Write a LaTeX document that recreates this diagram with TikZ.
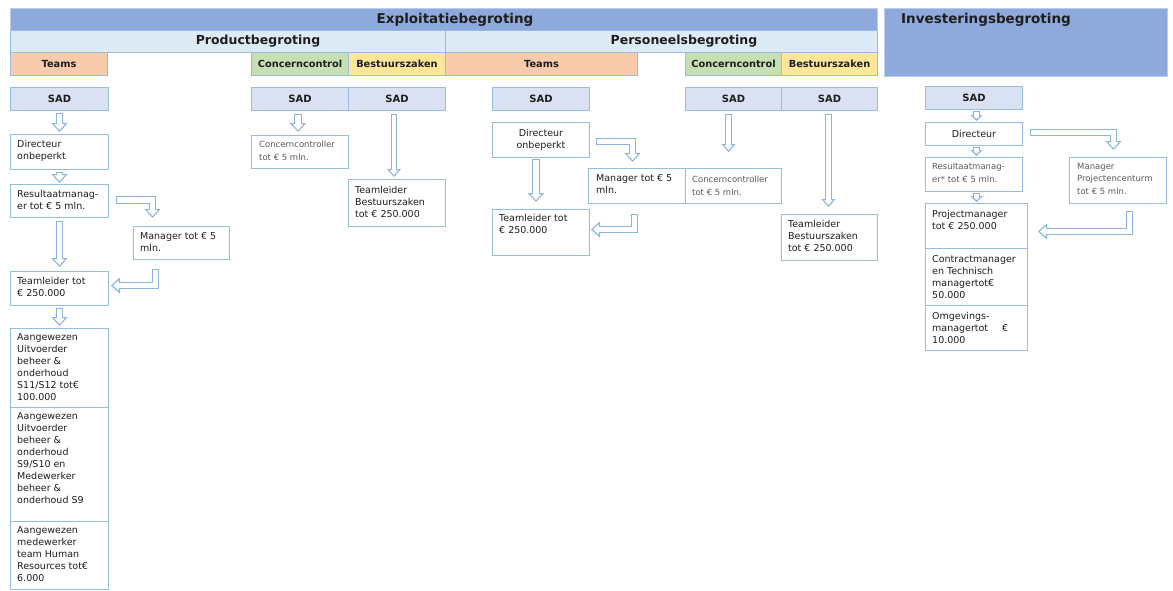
\documentclass[tikz,border=0pt]{standalone}
\usepackage{fontspec}
\setmainfont{DejaVu Sans}
\usetikzlibrary{arrows.meta,calc}

\definecolor{hdrblue}{RGB}{142,169,219}
\definecolor{hdrlight}{RGB}{221,235,247}
\definecolor{teamsc}{RGB}{248,203,173}
\definecolor{ccc}{RGB}{198,224,180}
\definecolor{bzc}{RGB}{255,230,153}
\definecolor{sadfill}{RGB}{217,225,242}
\definecolor{linec}{RGB}{150,188,226}
\definecolor{arrowc}{RGB}{140,180,222}
\definecolor{textc}{RGB}{30,30,30}
\definecolor{grayc}{RGB}{89,89,89}

\tikzset{
  box/.style={draw=linec, line width=1pt, fill=white, inner sep=0pt, anchor=north west},
  hdrcell/.style={box, font=\bfseries\fontsize{9.8}{11}\selectfont, text=textc},
  sadbox/.style={box, fill=sadfill, font=\bfseries\fontsize{10}{12}\selectfont, text=textc},
  boxtext/.style={anchor=north west, align=left, inner sep=0pt, xshift=7pt, yshift=-6pt,
    text=textc, font=\fontsize{9.5}{12}\selectfont},
  graytext/.style={boxtext, text=grayc, font=\fontsize{8.5}{12.5}\selectfont},
  blockarrow/.style={draw=arrowc, line width=7.4pt, line join=miter,
    -{Triangle[length=9pt, width=16pt, line width=1.1pt, color=arrowc, fill=white]},
    postaction={draw=white, line width=5.2pt, -, shorten <=1.1pt, shorten >=8pt}},
  slimarrow/.style={draw=arrowc, line width=6.4pt, line join=miter,
    -{Triangle[length=8pt, width=14pt, line width=1.1pt, color=arrowc, fill=white]},
    postaction={draw=white, line width=4.2pt, -, shorten <=1.1pt, shorten >=7pt}},
  smallarrow/.style={draw=arrowc, line width=6.4pt, line join=miter,
    -{Triangle[length=6pt, width=12pt, line width=1.1pt, color=arrowc, fill=white]},
    postaction={draw=white, line width=4.2pt, -, shorten <=1.1pt, shorten >=5pt}}
}

\begin{document}
\begin{tikzpicture}[x=1pt,y=-1pt]
\fill[white] (0,0) rectangle (1173,590);
\useasboundingbox (0,0) rectangle (1173,590);

% header rows
\node[box, fill=hdrblue, draw=hdrblue!60!white, minimum width=867pt, minimum height=22pt] (hExpl) at (10,8) {};
\node[font=\bfseries\fontsize{13.5}{16}\selectfont, text=textc] (tExpl) at (455,19.5) {Exploitatiebegroting};
\node[box, fill=hdrblue, draw=hdrblue!60!white, minimum width=283pt, minimum height=68pt] (hInv) at (884,8) {};
\node[anchor=north west, inner sep=0pt, font=\bfseries\fontsize{13.5}{16}\selectfont, text=textc] (tInv) at (901,13) {Investeringsbegroting};
\node[box, fill=hdrlight, minimum width=435pt, minimum height=22pt] (hProd) at (10,30) {};
\node[font=\bfseries\fontsize{12.5}{15}\selectfont, text=textc] (tProd) at (258,41) {Productbegroting};
\node[box, fill=hdrlight, minimum width=432pt, minimum height=22pt] (hPers) at (445,30) {};
\node[font=\bfseries\fontsize{12.5}{15}\selectfont, text=textc] (tPers) at (684,41) {Personeelsbegroting};

\node[hdrcell, fill=teamsc, minimum width=97pt, minimum height=23pt] (teamsA) at (10,52) {Teams};
\node[hdrcell, fill=ccc, minimum width=97pt, minimum height=23pt] (ccHdrA) at (251,52) {Concerncontrol};
\node[hdrcell, fill=bzc, minimum width=97pt, minimum height=23pt] (bzHdrA) at (348,52) {Bestuurszaken};
\node[hdrcell, fill=teamsc, minimum width=192pt, minimum height=23pt] (teamsB) at (445,52) {Teams};
\node[hdrcell, fill=ccc, minimum width=96pt, minimum height=23pt] (ccHdrB) at (685,52) {Concerncontrol};
\node[hdrcell, fill=bzc, minimum width=96pt, minimum height=23pt] (bzHdrB) at (781,52) {Bestuurszaken};

% SAD row
\node[sadbox, minimum width=98pt, minimum height=23pt] (sadA) at (10,87) {SAD};
\node[sadbox, minimum width=97pt, minimum height=23pt] (sadB) at (251,87) {SAD};
\node[sadbox, minimum width=97pt, minimum height=23pt] (sadC) at (348,87) {SAD};
\node[sadbox, minimum width=97pt, minimum height=23pt] (sadD) at (492,87) {SAD};
\node[sadbox, minimum width=96pt, minimum height=23pt] (sadE) at (685,87) {SAD};
\node[sadbox, minimum width=96pt, minimum height=23pt] (sadF) at (781,87) {SAD};
\node[sadbox, minimum width=97pt, minimum height=23pt] (sadG) at (925,86) {SAD};

% Productbegroting, teams
\node[box, minimum width=98pt, minimum height=35pt, label={[boxtext]north west:Directeur\\onbeperkt}] (dirA) at (10,134) {};
\node[box, minimum width=98pt, minimum height=33pt, label={[boxtext]north west:Resultaatmanag-\\er tot € 5 mln.}] (resA) at (10,184) {};
\node[box, minimum width=96pt, minimum height=33pt, label={[boxtext]north west:Manager tot € 5\\mln.}] (manA) at (133,226) {};
\node[box, minimum width=98pt, minimum height=34pt, label={[boxtext]north west:Teamleider tot\\€ 250.000}] (tlA) at (10,271) {};
\node[box, minimum width=98pt, minimum height=79pt, label={[boxtext, yshift=1pt]north west:Aangewezen\\Uitvoerder\\beheer \&\\onderhoud\\S11/S12 tot€\\100.000}] (aw1) at (10,328) {};
\node[box, minimum width=98pt, minimum height=114pt, label={[boxtext, yshift=1pt]north west:Aangewezen\\Uitvoerder\\beheer \&\\onderhoud\\S9/S10 en\\Medewerker\\beheer \&\\onderhoud S9}] (aw2) at (10,407) {};
\node[box, minimum width=98pt, minimum height=68pt, label={[boxtext, yshift=1pt]north west:Aangewezen\\medewerker\\team Human\\Resources tot€\\6.000}] (aw3) at (10,521) {};

% Productbegroting, concerncontrol en bestuurszaken
\node[box, minimum width=97pt, minimum height=33pt, label={[graytext, xshift=1pt]north west:Concerncontroller\\tot € 5 mln.}] (ccA) at (251,135) {};
\node[box, minimum width=97pt, minimum height=47pt, label={[boxtext, yshift=-1pt]north west:Teamleider\\Bestuurszaken\\tot € 250.000}] (tbA) at (348,179) {};

% Personeelsbegroting
\node[box, minimum width=97pt, minimum height=35pt, align=center, font=\fontsize{9.5}{12}\selectfont, text=textc] (dirB) at (492,122) {Directeur\\onbeperkt};
\node[box, minimum width=97pt, minimum height=35pt, label={[boxtext, xshift=1pt]north west:Manager tot € 5\\mln.}] (manB) at (588,168) {};
\node[box, minimum width=96pt, minimum height=35pt, label={[graytext, yshift=-2pt]north west:Concerncontroller\\tot € 5 mln.}] (ccB) at (685,168) {};
\node[box, minimum width=97pt, minimum height=46pt, label={[boxtext, yshift=1pt]north west:Teamleider tot\\€ 250.000}] (tlB) at (492,209) {};
\node[box, minimum width=96pt, minimum height=46pt, label={[boxtext]north west:Teamleider\\Bestuurszaken\\tot € 250.000}] (tbB) at (781,214) {};

% Investeringsbegroting
\node[box, minimum width=97pt, minimum height=23pt, font=\fontsize{9.5}{12}\selectfont, text=textc] (dirC) at (925,122) {Directeur};
\node[box, minimum width=97pt, minimum height=34pt, label={[graytext]north west:Resultaatmanag-\\er* tot € 5 mln.}] (resC) at (925,157) {};
\node[box, minimum width=97pt, minimum height=46pt, label={[graytext, xshift=1pt]north west:Manager\\Projectencenturm\\tot € 5 mln.}] (mpC) at (1069,157) {};
\node[box, minimum width=102pt, minimum height=45pt, label={[boxtext, yshift=-1pt]north west:Projectmanager\\tot € 250.000}] (pmC) at (925,203) {};
\node[box, minimum width=102pt, minimum height=57pt, label={[boxtext, yshift=-1pt]north west:Contractmanager\\en Technisch\\managertot€\\50.000}] (cmC) at (925,248) {};
\node[box, minimum width=102pt, minimum height=45pt, label={[boxtext, yshift=-1pt]north west:Omgevings-\\managertot\hspace{14pt}€\\10.000}] (omC) at (925,305) {};

% arrows
\draw[blockarrow] ($(sadA.south)+(0,2)$) -- ($(dirA.north)+(0,-2)$);
\draw[blockarrow] ($(dirA.south)+(0,2)$) -- ($(resA.north)+(0,-1)$);
\draw[blockarrow] ($(resA.south)+(0,3)$) -- ($(tlA.north)+(0,-4)$);
\draw[blockarrow] ($(tlA.south)+(0,2)$) -- ($(aw1.north)+(0,-2)$);
\draw[blockarrow] ($(resA.east)+(7,-1)$) -| ($(manA.north)+(-29,-8)$);
\draw[blockarrow] ($(manA.south)+(-26,9)$) |- ($(tlA.east)+(2,-3)$);
\draw[blockarrow] ($(sadB.south)+(-2,3)$) -- ($(ccA.north)+(-2,-3)$);
\draw[slimarrow] ($(sadC.south)+(-3,3)$) -- ($(tbA.north)+(-3,-2)$);

\draw[blockarrow] ($(dirB.south)+(-5,1)$) -- ($(tlB.north)+(-5,-7)$);
\draw[blockarrow] ($(dirB.east)+(6,1.5)$) -| ($(manB.north)+(-4.5,-6)$);
\draw[blockarrow] ($(manB.south)+(-2.5,10)$) |- ($(tlB.east)+(1,-3)$);
\draw[slimarrow] ($(sadE.south)+(-5,3)$) -- ($(ccB.north)+(-5,-16)$);
\draw[slimarrow] ($(sadF.south)+(-1,3)$) -- ($(tbB.north)+(-1,-7)$);

\draw[smallarrow] ($(sadG.south)+(2.5,1)$) -- ($(dirC.north)+(2.5,-1)$);
\draw[smallarrow] ($(dirC.south)+(2.5,1)$) -- ($(resC.north)+(2.5,-1)$);
\draw[smallarrow] ($(resC.south)+(2.5,1)$) -- ($(resC.south |- pmC.north)+(2.5,-1)$);
\draw[blockarrow] ($(dirC.east)+(7,-1.5)$) -| ($(mpC.north)+(-4.5,-7)$);
\draw[blockarrow] ($(mpC.south)+(11.5,7)$) |- ($(pmC.east)+(10,5.5)$);
\end{tikzpicture}
\end{document}
